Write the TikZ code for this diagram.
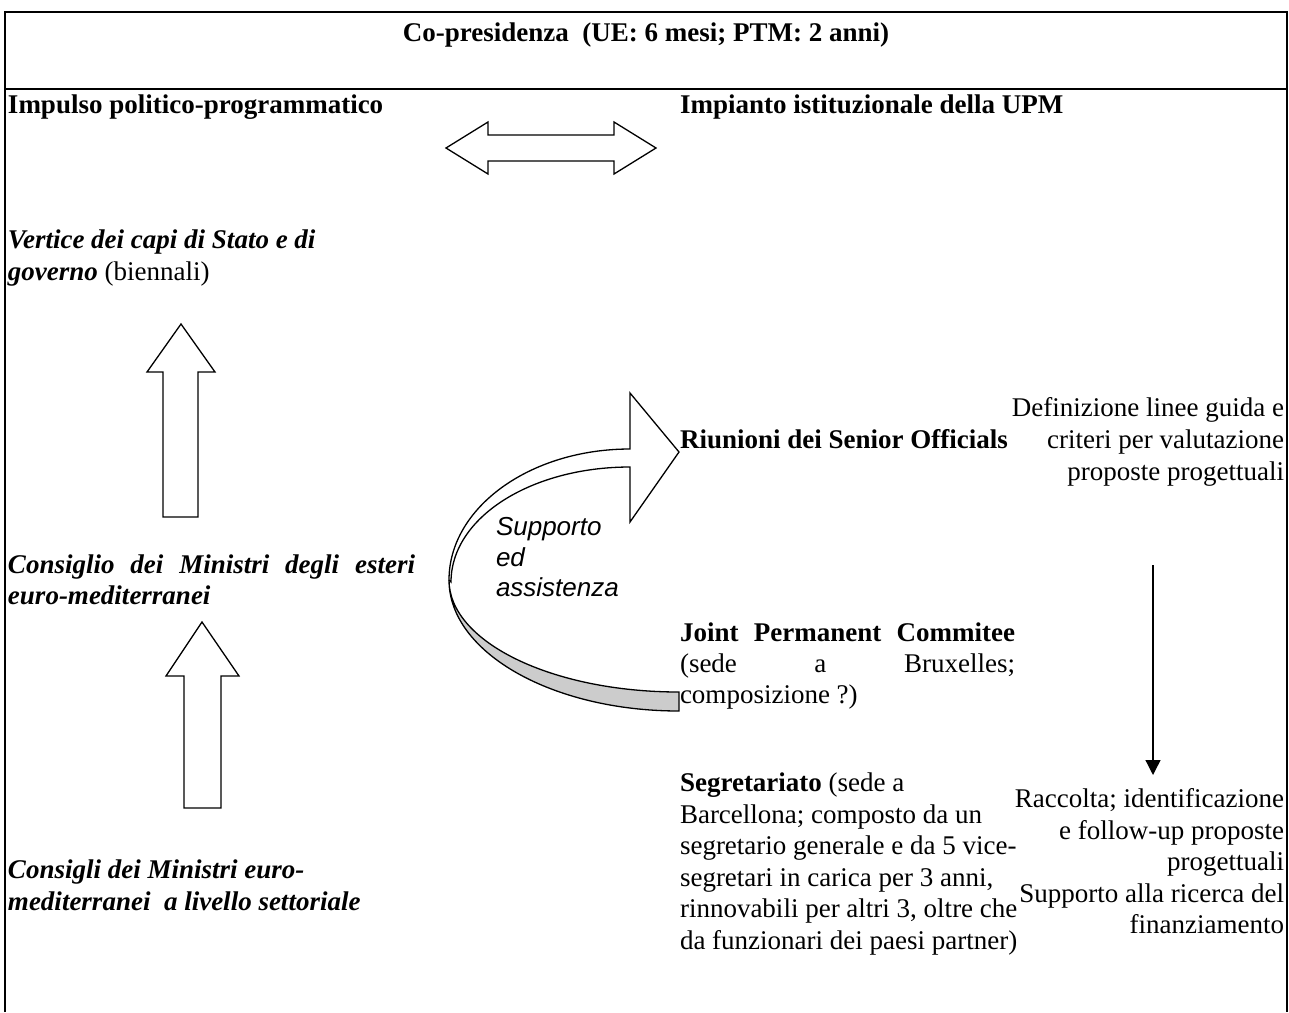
\documentclass[tikz,border=0pt]{standalone}
\usepackage{fontspec}
\setmainfont{Liberation Serif}
\newfontfamily\arialf{Liberation Sans}
\usetikzlibrary{arrows.meta}
\definecolor{ribbon}{RGB}{204,204,204}
\tikzset{
  txt/.style={inner sep=0pt, outer sep=0pt, font=\fontsize{27}{31.5}\selectfont},
  sanstxt/.style={inner sep=0pt, outer sep=0pt, font=\arialf\itshape\fontsize{26}{29}\selectfont},
  blk/.style={draw=black, line width=1.3pt, fill=white, line join=miter},
  frame/.style={line width=1.6pt},
  thinarrow/.style={line width=1.3pt, -{Triangle[length=15pt,width=15pt]}}
}
\begin{document}
\begin{tikzpicture}[x=1pt,y=-1pt]
\fill[white] (0,0) rectangle (1289,1012);
\useasboundingbox (0,0) rectangle (1289,1012);
% frame
\draw[frame] (5,1012) -- (5,12) -- (1287,12) -- (1287,1012);
\draw[frame] (5,89) -- (1287,89);
% title
\node[txt,anchor=base] (title) at (646,41) {\bfseries Co-presidenza\ \ (UE: 6 mesi; PTM: 2 anni)};
\node[txt,anchor=base west] (impulso) at (8,113) {\bfseries Impulso politico-programmatico};
\node[txt,anchor=base west] (impianto) at (680,113) {\bfseries Impianto istituzionale della UPM};
% double arrow
\draw[blk] (446,148) -- (488,122) -- (488,135) -- (614,135) -- (614,122) -- (656,148)
  -- (614,174) -- (614,161) -- (488,161) -- (488,174) -- cycle;
% left column
\node[txt,anchor=base west] (vert1) at (8,248) {\bfseries\itshape Vertice dei capi di Stato e di};
\node[txt,anchor=base west] (vert2) at (8,280) {\textbf{\textit{governo}} (biennali)};
\draw[blk] (181,324) -- (215,372) -- (198,372) -- (198,517) -- (163,517) -- (163,372) -- (147,372) -- cycle;
\node[txt,anchor=base west] (cons1) at (8,573) {\makebox[407pt][s]{\bfseries\itshape Consiglio dei Ministri degli esteri}};
\node[txt,anchor=base west] (cons2) at (8,604) {\bfseries\itshape euro-mediterranei};
\draw[blk] (202,622) -- (239,676) -- (221,676) -- (221,808) -- (184,808) -- (184,676) -- (166,676) -- cycle;
\node[txt,anchor=base west] (sett1) at (8,878) {\bfseries\itshape Consigli dei Ministri euro-};
\node[txt,anchor=base west] (sett2) at (8,910) {\bfseries\itshape mediterranei\ \ a livello settoriale};
% curved arrow
\draw[blk, fill=ribbon] (449,580) .. controls (449,641.9) and (552,692) .. (679,692)
  -- (679,711) .. controls (552,711) and (449,652.4) .. (449,580) -- cycle;
\draw[blk] (449,580) .. controls (449,507.6) and (530,449) .. (630,449) -- (630,393) -- (679,452)
  -- (630,522) -- (630,467) .. controls (531,467) and (451,517.6) .. (451,582) -- cycle;
\node[sanstxt,anchor=base west] (sup1) at (496,535) {Supporto};
\node[sanstxt,anchor=base west] (sup2) at (496,566) {ed};
\node[sanstxt,anchor=base west] (sup3) at (496,596) {assistenza};
% middle column
\node[txt,anchor=base west] (riun) at (680,448) {\bfseries Riunioni dei Senior Officials};
\node[txt,anchor=base west] (jpc1) at (680,641) {\makebox[335pt][s]{\bfseries Joint Permanent Commitee}};
\node[txt,anchor=base west] (jpc2) at (680,672) {\makebox[335pt][s]{(sede a Bruxelles;}};
\node[txt,anchor=base west] (jpc3) at (680,703) {composizione ?)};
\node[txt,anchor=base west] (seg1) at (680,791) {\textbf{Segretariato} (sede a};
\node[txt,anchor=base west] (seg2) at (680,823) {Barcellona; composto da un};
\node[txt,anchor=base west] (seg3) at (680,854) {segretario generale e da 5 vice-};
\node[txt,anchor=base west] (seg4) at (680,886) {segretari in carica per 3 anni,};
\node[txt,anchor=base west] (seg5) at (680,917) {rinnovabili per altri 3, oltre che};
\node[txt,anchor=base west] (seg6) at (680,949) {da funzionari dei paesi partner)};
% right column
\node[txt,anchor=base east] (def1) at (1284,416) {Definizione linee guida e};
\node[txt,anchor=base east] (def2) at (1284,448) {criteri per valutazione};
\node[txt,anchor=base east] (def3) at (1284,480) {proposte progettuali};
\coordinate (dtop) at (1153,565);
\coordinate (dbot) at (1153,775);
\draw[thinarrow] (dtop) -- (dbot);
\node[txt,anchor=base east] (rac1) at (1284,807) {Raccolta; identificazione};
\node[txt,anchor=base east] (rac2) at (1284,839) {e follow-up proposte};
\node[txt,anchor=base east] (rac3) at (1284,870) {progettuali};
\node[txt,anchor=base east] (rac4) at (1284,902) {Supporto alla ricerca del};
\node[txt,anchor=base east] (rac5) at (1284,933) {finanziamento};
\end{tikzpicture}
\end{document}
